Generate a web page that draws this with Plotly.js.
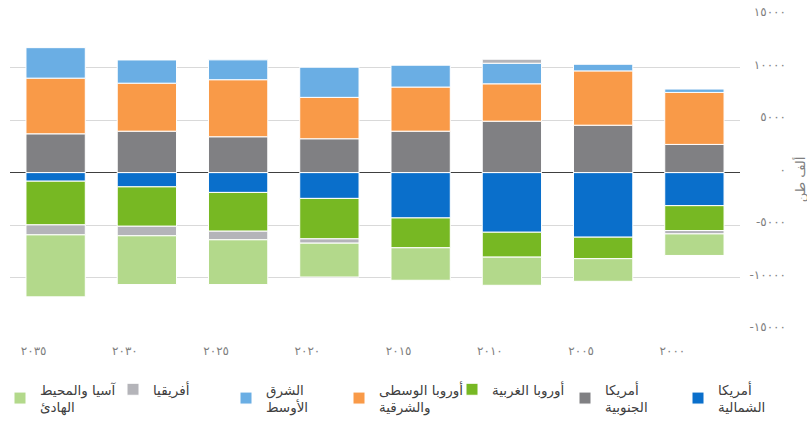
<!DOCTYPE html>
<html>
<head>
<meta charset="utf-8">
<script src="https://cdn.plot.ly/plotly-3.0.1.min.js"></script>
<style>html,body{margin:0;padding:0;background:#fff;}#chart{width:807px;height:423px;}</style>
</head>
<body>
<div id="chart"></div>
<script>
// Years (category labels, Arabic-Indic digits), 2000 → 2035
const years = ['٢٠٠٠','٢٠٠٥','٢٠١٠','٢٠١٥','٢٠٢٠','٢٠٢٥','٢٠٣٠','٢٠٣٥'];

// Net trade by region, thousand tonnes
const northAmerica   = [-3150, -6150, -5680, -4320, -2460, -1890, -1360, -820];
const southAmerica   = [2680, 4510, 4890, 3940, 3220, 3410, 3940, 3690];
const westernEurope  = [-2370, -2050, -2370, -2840, -3850, -3690, -3750, -4160];
const centralEastEu  = [4950, 5170, 3560, 4200, 3940, 5430, 4570, 5300];
const middleEast     = [320, 660, 1960, 2110, 2870, 1890, 2210, 2900];
const africa         = [-320, 0, 380, 0, -410, -820, -910, -950];
const asiaPacific    = [-2050, -2150, -2680, -3090, -3220, -4260, -4640, -5900];

const seriesNames = ['أمريكا<br>الشمالية', 'أمريكا<br>الجنوبية', 'أوروبا الغربية', 'أوروبا الوسطى<br>والشرقية', 'الشرق<br>الأوسط', 'أفريقيا', 'آسيا والمحيط<br>الهادئ'];
const seriesData = [northAmerica, southAmerica, westernEurope, centralEastEu, middleEast, africa, asiaPacific];
const seriesColors = ['#0a6fcb', '#808083', '#77b823', '#f99a48', '#6aaee4', '#b4b4b9', '#b3d98b'];

// y-axis ticks
const yTickVals = [-15000, -10000, -5000, 0, 5000, 10000, 15000];
const yTickText = ['-١٥٠٠٠', '-١٠٠٠٠', '-٥٠٠٠', '٠', '٥٠٠٠', '١٠٠٠٠', '١٥٠٠٠'];
const yTitle = 'ألف طن';

const traces = seriesData.map((vals, i) => ({
  type: 'bar',
  x: years,
  y: vals,
  name: seriesNames[i],
  marker: {color: seriesColors[i], line: {color: '#ffffff', width: 1}},
  hoverinfo: 'skip'
}));

const layout = {
  width: 807, height: 423,
  margin: {l: 0, r: 0, t: 15, b: 5},
  paper_bgcolor: '#ffffff', plot_bgcolor: '#ffffff',
  font: {family: 'DejaVu Sans, Noto Sans, sans-serif', color: '#595959', size: 12},
  barmode: 'relative',
  bargap: 0.35,
  showlegend: true,
  xaxis: {
    domain: [0.0124, 0.917],
    type: 'category',
    autorange: 'reversed',
    showgrid: false, zeroline: false, showline: false,
    ticks: '',
    ticklabelstandoff: 12,
    ticklabelshift: 22,
    tickfont: {size: 12, color: '#7f7f7f'}
  },
  yaxis: {
    domain: [0.2141, 1],
    side: 'left', anchor: 'free', position: 0.974,
    range: [-15000, 15000],
    tickvals: yTickVals, ticktext: yTickText,
    showgrid: true, gridcolor: '#d9d9d9', gridwidth: 1,
    zeroline: true, zerolinecolor: '#404040', zerolinewidth: 1,
    showline: false, ticks: '',
    ticklabelshift: -3,
    tickfont: {size: 12, color: '#7f7f7f'}
  },
  legend: {
    orientation: 'h', traceorder: 'reversed',
    x: 0, xanchor: 'left', y: 0.104, yanchor: 'top',
    entrywidth: 68, entrywidthmode: 'pixels',
    itemwidth: 30,
    font: {size: 13.5, color: '#404040'},
    bgcolor: 'rgba(0,0,0,0)'
  },
  annotations: [{
    text: yTitle, textangle: -90, showarrow: false,
    xref: 'paper', yref: 'paper', x: 0.9913, y: 0.5906,
    xanchor: 'center', yanchor: 'middle',
    font: {size: 13, color: '#7f7f7f'}
  }]
};

Plotly.newPlot('chart', traces, layout, {displayModeBar: false, staticPlot: true});
</script>
</body>
</html>
